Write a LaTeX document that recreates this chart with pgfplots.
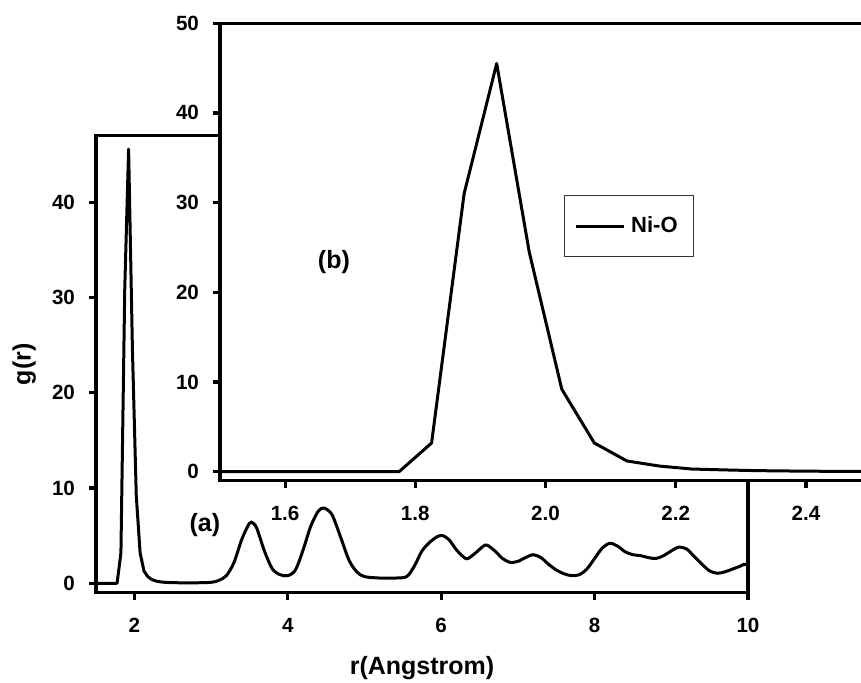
\documentclass[border=0pt]{standalone}
\usepackage{fontspec}
\setmainfont{Liberation Sans}
\usepackage{pgfplots}
\pgfplotsset{compat=1.18}

\pgfplotsset{
  gstyle/.style={
    scale only axis,
    axis line style={line width=1.6pt},
    tick style={line width=1.6pt, black},
    tick align=outside,
    major tick length=3.5pt,
    xtick pos=bottom, ytick pos=left,
    ticklabel style={font=\fontsize{10.3}{12}\selectfont\bfseries},
    xticklabel style={yshift=-5.5pt},
    yticklabel style={xshift=-3.5pt},
    /pgf/number format/assume math mode=true,
    label style={font=\fontsize{12.5}{14}\selectfont\bfseries},
  }
}

\begin{document}
\begin{tikzpicture}
\path[use as bounding box] (0,0) rectangle (430.5pt,341.5pt);
\clip (0,0) rectangle (430.5pt,341.5pt);

% main panel (a)
\begin{axis}[gstyle,
    at={(48pt,45.1pt)}, anchor=south west,
    width=326pt, height=228.5pt,
    xmin=1.5, xmax=10, ymin=-1, ymax=47,
    xtick={2,4,6,8,10}, ytick={0,10,20,30,40},
    xlabel={r(Angstrom)}, ylabel={g(r)},
    xlabel style={at={(axis description cs:0.5,-0.164)}, anchor=center},
    ylabel style={at={(axis description cs:-0.110,0.5)}, anchor=center},
]
\addplot[line width=1.5pt, line join=round] table {
1.50 0
1.60 0
1.70 0
1.775 0
1.825 3.2
1.875 31.0
1.925 45.6
1.975 24.5
2.025 9.2
2.075 3.2
2.125 1.3
2.175 0.7
2.225 0.4
};
\addplot[line width=1.5pt, smooth, tension=0.5] table {
2.225 0.4
2.3 0.2
2.4 0.1
2.6 0.05
2.8 0.05
3.0 0.1
3.1 0.3
3.2 0.8
3.3 2.2
3.4 4.6
3.5 6.3
3.55 6.3
3.6 5.7
3.7 3.3
3.8 1.5
3.9 0.9
4.0 0.8
4.1 1.4
4.2 3.5
4.3 6.0
4.4 7.6
4.47 7.9
4.55 7.5
4.6 6.8
4.7 4.6
4.8 2.4
4.9 1.2
5.0 0.7
5.2 0.55
5.4 0.55
5.55 0.7
5.65 1.8
5.75 3.4
5.85 4.3
5.95 4.9
6.02 5.0
6.1 4.6
6.2 3.5
6.3 2.7
6.35 2.6
6.45 3.2
6.55 3.9
6.6 4.0
6.7 3.4
6.8 2.6
6.9 2.2
7.0 2.3
7.1 2.7
7.2 3.0
7.3 2.7
7.4 2.0
7.5 1.4
7.6 1.0
7.7 0.8
7.8 0.9
7.9 1.5
8.0 2.6
8.1 3.7
8.2 4.2
8.3 3.9
8.4 3.3
8.5 3.0
8.6 2.9
8.7 2.7
8.8 2.6
8.9 2.9
9.0 3.4
9.1 3.8
9.2 3.6
9.3 2.8
9.4 2.0
9.5 1.3
9.6 1.05
9.7 1.2
9.8 1.5
9.9 1.8
9.95 2.0
10.0 1.9
};
\node[font=\fontsize{12.5}{14}\selectfont\bfseries] at (axis cs:2.92,6.1) {(a)};
\end{axis}

% inset (b)
\begin{axis}[gstyle,
    at={(110pt,101.15pt)}, anchor=south west,
    width=325.5pt, height=228.75pt,
    axis background/.style={fill=white},
    xmin=1.5, xmax=2.5, ymin=-1, ymax=50,
    xtick={1.6,1.8,2.0,2.2,2.4}, ytick={0,10,20,30,40,50},
    xticklabel style={/pgf/number format/.cd, fixed, fixed zerofill, precision=1},
    legend style={at={(0.528,0.624)}, anchor=north west, draw=black!80,
      line width=0.5pt, font=\fontsize{11}{12}\selectfont\bfseries,
      inner xsep=5pt, inner ysep=7.5pt,
      nodes={inner sep=3pt}},
    legend image code/.code={\draw[#1] (0pt,0pt) -- (24pt,0pt);},
]
\addplot[line width=1.5pt, line join=round] table {
1.50 0
1.525 0
1.575 0
1.625 0
1.675 0
1.725 0
1.775 0
1.825 3.2
1.875 31.0
1.925 45.5
1.975 24.5
2.025 9.2
2.075 3.2
2.125 1.2
2.175 0.63
2.225 0.3
2.275 0.2
2.325 0.12
2.375 0.08
2.425 0.05
2.475 0.03
2.5 0.03
};
\addlegendentry{Ni-O}
\node[font=\fontsize{12.5}{14}\selectfont\bfseries] at (axis cs:1.675,23.4) {(b)};
\end{axis}
\end{tikzpicture}
\end{document}
